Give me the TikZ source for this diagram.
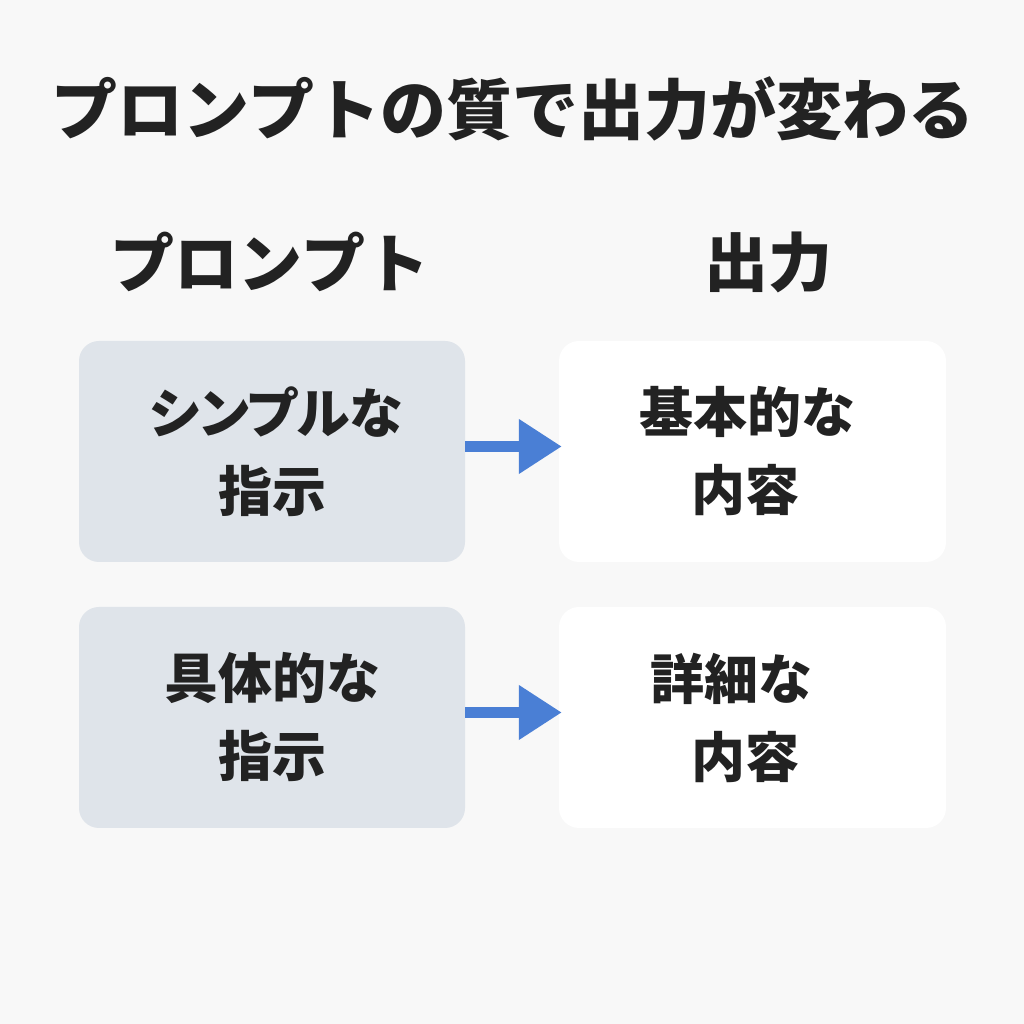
\documentclass[tikz,border=0pt]{standalone}
\usepackage{fontspec}
\setmainfont{Noto Sans CJK JP}
\usetikzlibrary{arrows.meta}
\definecolor{bg}{HTML}{F8F8F8}
\definecolor{ink}{HTML}{222222}
\definecolor{leftfill}{HTML}{DFE4EA}
\definecolor{arrowblue}{HTML}{4A7FD5}
\newcommand{\proptext}[1]{{\addfontfeature{RawFeature=+palt}#1}}
\tikzset{
  txt/.style={text=ink, font=\bfseries\fontsize{54}{78}\selectfont, align=center},
  promptbox/.style={txt, fill=leftfill, rounded corners=20pt, minimum width=386pt, minimum height=221pt, inner sep=0pt},
  outbox/.style={txt, fill=white, rounded corners=20pt, minimum width=387pt, minimum height=221pt, inner sep=0pt},
  heading/.style={text=ink, font=\bfseries\fontsize{64}{64}\selectfont},
  title/.style={text=ink, font=\bfseries\fontsize{66}{66}\selectfont},
  flow/.style={arrowblue, line width=11pt, -{Triangle[length=43pt,width=52pt]}}
}
\begin{document}
\begin{tikzpicture}[x=1pt,y=1pt]
\fill[bg] (0,0) rectangle (1024,1024);
\useasboundingbox (0,0) rectangle (1024,1024);
\node[title] (title) at (513,915) {プロンプトの質で出力が変わる};
\node[heading] (hp) at (270,762) {プロンプト};
\node[heading] (ho) at (768,762) {出力};
\node[promptbox] (l1) at (272,572.5) {\hspace*{8pt}\proptext{シンプルな}\\指示};
\node[outbox] (r1) at (752.5,572.5) {基本的な\hspace*{10pt}\\内容\hspace*{14pt}};
\node[promptbox] (l2) at (272,306.5) {具体的な\\指示};
\node[outbox] (r2) at (752.5,306.5) {詳細な\hspace*{42pt}\\内容\hspace*{14pt}};
\draw[flow] ([yshift=5pt]l1.east) -- ([yshift=5pt,xshift=3pt]r1.west);
\draw[flow] ([yshift=5pt]l2.east) -- ([yshift=5pt,xshift=3pt]r2.west);
\end{tikzpicture}
\end{document}
